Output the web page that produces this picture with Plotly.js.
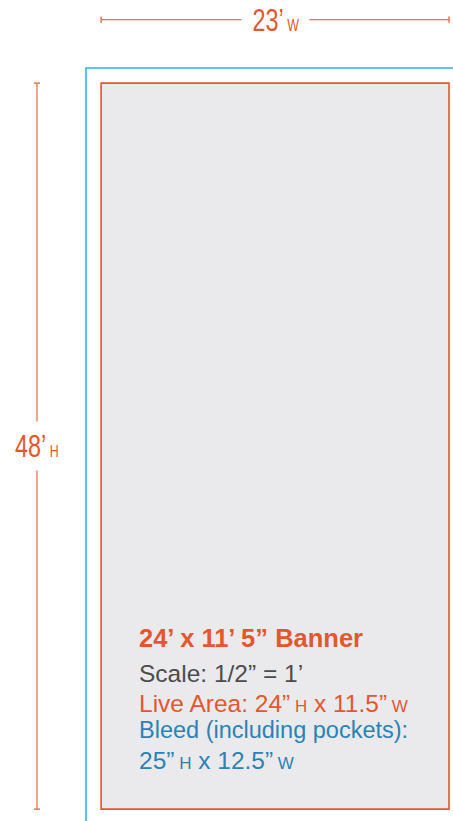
<!DOCTYPE html>
<html>
<head>
<meta charset="utf-8">
<script src="https://cdn.plot.ly/plotly-3.0.1.min.js"></script>
<style>html,body{margin:0;padding:0;background:#fff;}#chart{width:453px;height:821px;}</style>
</head>
<body>
<div id="chart"></div>
<script>
// ---- data (inches, printed at scale 1/2" = 1') ----
const bleedSize = [12.5, 25];      // [width, height] in inches
const liveSize = [11.5, 24];       // [width, height] in inches
const feetPerInch = 2;             // scale: 1/2" = 1'
const dimLabels = ['23’', '48’'];  // width, height labels (feet)
const dimUnits = ['W', 'H'];
const titleText = '24’ x 11’ 5” Banner';
const scaleText = 'Scale: 1/2” = 1’';
const liveText = ['Live Area: ', '24”', 'H', ' x 11.5”', 'W'];
const bleedText = ['Bleed (including pockets):', '25”', 'H', ' x 12.5”', 'W'];

// ---- styles ----
const ORANGE = '#e4572e';
const DIM = '#e8734f';
const CYAN = '#2cb4ea';
const BLUE = '#2a82b6';
const GRAY = '#4b4c4e';
const FILL = '#eaeaec';
const PX_PER_IN = 30.25;
const W = 453, H = 821;
const ORIGIN = [86, 68]; // pixel of bleed top-left

const xr = [-ORIGIN[0] / PX_PER_IN, (W - ORIGIN[0]) / PX_PER_IN];
const yr = [(H - ORIGIN[1]) / PX_PER_IN, -ORIGIN[1] / PX_PER_IN];

const offX = (bleedSize[0] - liveSize[0]) / 2;
const offY = (bleedSize[1] - liveSize[1]) / 2;
const hDimY = -1.6, vDimX = -1.62, cap = 0.1;

const shapes = [
  {type:'rect', xref:'x', yref:'y', x0:0, x1:bleedSize[0], y0:0, y1:bleedSize[1],
   line:{color:CYAN, width:1.6}, fillcolor:'rgba(0,0,0,0)'},
  {type:'rect', xref:'x', yref:'y', x0:offX, x1:offX + liveSize[0], y0:offY, y1:offY + liveSize[1],
   line:{color:ORANGE, width:1.6}, fillcolor:FILL},
  // horizontal dimension
  {type:'line', xref:'x', yref:'y', x0:offX, x1:offX + liveSize[0], y0:hDimY, y1:hDimY, line:{color:DIM, width:1.3}},
  {type:'line', xref:'x', yref:'y', x0:offX, x1:offX, y0:hDimY - cap, y1:hDimY + cap, line:{color:DIM, width:1.5}},
  {type:'line', xref:'x', yref:'y', x0:offX + liveSize[0], x1:offX + liveSize[0], y0:hDimY - cap, y1:hDimY + cap, line:{color:DIM, width:1.5}},
  // vertical dimension
  {type:'line', xref:'x', yref:'y', x0:vDimX, x1:vDimX, y0:offY, y1:offY + liveSize[1], line:{color:DIM, width:1.3}},
  {type:'line', xref:'x', yref:'y', x0:vDimX - cap, x1:vDimX + cap, y0:offY, y1:offY, line:{color:DIM, width:1.5}},
  {type:'line', xref:'x', yref:'y', x0:vDimX - cap, x1:vDimX + cap, y0:offY + liveSize[1], y1:offY + liveSize[1], line:{color:DIM, width:1.5}}
];

const smallD = (t) => '<span style="font-size:17px">' + t + '</span>';
const smallB = (t) => '<span style="font-size:17px">' + t + '</span>';
const sans = 'Liberation Sans, Arial, sans-serif';

const textX = (138 - ORIGIN[0]) / PX_PER_IN;
const rowY = [18.84, 20.03, 21.0, 21.9, 22.9];

const annotations = [
  {xref:'x', yref:'y', x:offX + liveSize[0] / 2, y:hDimY, showarrow:false,
   text: dimLabels[0] + smallD(' ' + dimUnits[0]), font:{family:sans, size:32, color:ORANGE},
   bgcolor:'#ffffff', borderpad:5, xanchor:'center', yanchor:'middle'},
  {xref:'x', yref:'y', x:vDimX, y:offY + liveSize[1] / 2, showarrow:false,
   text: dimLabels[1] + smallD(' ' + dimUnits[1]), font:{family:sans, size:32, color:ORANGE},
   bgcolor:'#ffffff', borderpad:5, height:38, xanchor:'center', yanchor:'middle'},
  {xref:'x', yref:'y', x:textX, y:rowY[0], showarrow:false, xanchor:'left', yanchor:'middle', borderpad:0,
   text:'<b>' + titleText + '</b>', font:{family:sans, size:25.5, color:ORANGE}},
  {xref:'x', yref:'y', x:textX, y:rowY[1], showarrow:false, xanchor:'left', yanchor:'middle', borderpad:0,
   text:scaleText, font:{family:sans, size:24.5, color:GRAY}},
  {xref:'x', yref:'y', x:textX, y:rowY[2], showarrow:false, xanchor:'left', yanchor:'middle', borderpad:0,
   text:liveText[0] + liveText[1] + smallB(' ' + liveText[2]) + liveText[3] + smallB(' ' + liveText[4]),
   font:{family:sans, size:24.5, color:ORANGE}},
  {xref:'x', yref:'y', x:textX, y:rowY[3], showarrow:false, xanchor:'left', yanchor:'middle', borderpad:0,
   text:bleedText[0], font:{family:sans, size:23.5, color:BLUE}},
  {xref:'x', yref:'y', x:textX, y:rowY[4], showarrow:false, xanchor:'left', yanchor:'middle', borderpad:0,
   text:bleedText[1] + smallB(' ' + bleedText[2]) + bleedText[3] + smallB(' ' + bleedText[4]),
   font:{family:sans, size:24.5, color:BLUE}}
];

const layout = {
  width: W, height: H,
  margin: {l:0, r:0, t:0, b:0, pad:0},
  paper_bgcolor: '#ffffff', plot_bgcolor: '#ffffff',
  xaxis: {range: xr, visible:false, fixedrange:true},
  yaxis: {range: yr, visible:false, fixedrange:true},
  showlegend: false,
  shapes: shapes,
  annotations: annotations
};

// condense the dimension labels horizontally (the original uses a condensed face)
function condense(gd) {
  const groups = gd.querySelectorAll('.annotation');
  const gapW = [68, null];
  [0, 1].forEach(function (i) {
    const g = groups[i];
    if (!g) return;
    const t = g.querySelector('.annotation-text');
    const r = g.querySelector('rect.bg');
    if (!t) return;
    const bb = t.getBBox();
    const cx = bb.x + bb.width / 2;
    const prev = t.getAttribute('transform') || '';
    t.setAttribute('transform', prev + ' translate(' + cx + ',0) scale(0.73,1) translate(' + (-cx) + ',0)');
    if (r && gapW[i]) {
      const rx = parseFloat(r.getAttribute('x') || 0);
      const rw = parseFloat(r.getAttribute('width') || 0);
      const c = rx + rw / 2;
      r.setAttribute('x', c - gapW[i] / 2);
      r.setAttribute('width', gapW[i]);
    }
  });
}

Plotly.newPlot('chart', [], layout, {staticPlot:true, displayModeBar:false}).then(condense);
</script>
</body>
</html>
